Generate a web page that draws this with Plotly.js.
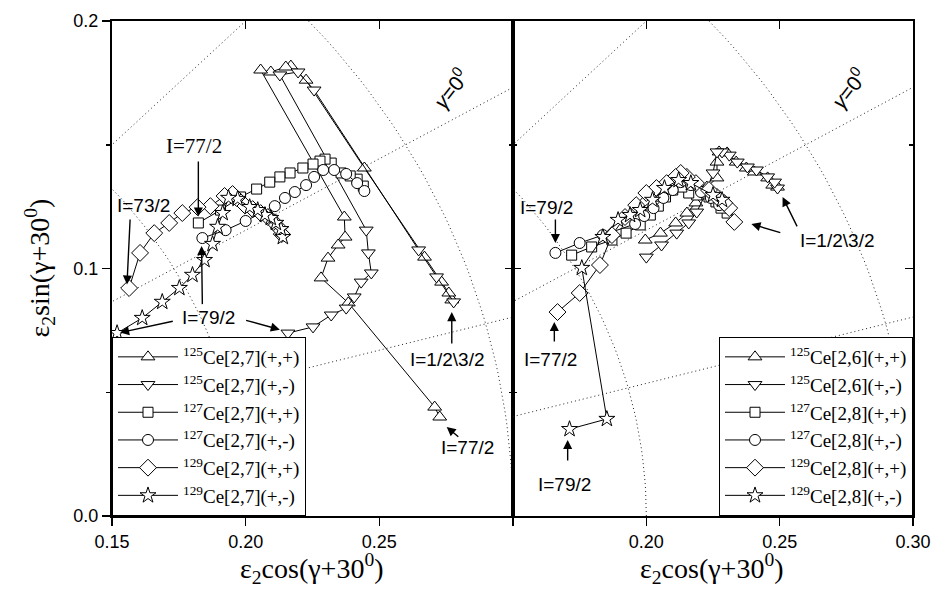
<!DOCTYPE html>
<html><head><meta charset="utf-8">
<script src="https://cdn.plot.ly/plotly-3.0.1.min.js"></script>
<style>body{margin:0;background:#fff}#chart{width:936px;height:591px}</style>
</head><body><div id="chart"></div>
<script>
// ---------- Left panel data ----------
var L125pp_x = [0.2771,0.2760,0.2733,0.2669,0.2444,0.2226,0.2169,0.2150,0.2094,0.2056,0.2369,0.2372,0.2346,0.2308,0.2282,0.2384,0.2707,0.2726];
var L125pp_y = [0.0873,0.0901,0.0945,0.1046,0.1406,0.1761,0.1818,0.1814,0.1794,0.1802,0.1208,0.1127,0.1095,0.1042,0.0962,0.0861,0.0440,0.0400];
var L125pm_x = [0.2778,0.2714,0.2647,0.2256,0.2196,0.2128,0.2451,0.2459,0.2470,0.2432,0.2406,0.2376,0.2320,0.2252,0.2158];
var L125pm_y = [0.0865,0.0966,0.1075,0.1721,0.1794,0.1782,0.1155,0.1063,0.0982,0.0945,0.0885,0.0840,0.0812,0.0764,0.0739];
var L127pp_x = [0.2440,0.2417,0.2391,0.2357,0.2320,0.2297,0.2278,0.2252,0.2214,0.2166,0.2128,0.2090,0.2041,0.1981,0.1906,0.1823];
var L127pp_y = [0.1333,0.1361,0.1374,0.1386,0.1426,0.1442,0.1434,0.1422,0.1406,0.1386,0.1370,0.1349,0.1321,0.1289,0.1236,0.1184];
var L127pm_x = [0.2444,0.2417,0.2376,0.2331,0.2290,0.2256,0.2226,0.2184,0.2147,0.2109,0.2000,0.1925,0.1838];
var L127pm_y = [0.1313,0.1345,0.1382,0.1398,0.1398,0.1370,0.1337,0.1309,0.1285,0.1252,0.1192,0.1155,0.1123];
var L129pp_x = [0.2135,0.2124,0.2105,0.2083,0.2056,0.2026,0.1996,0.1966,0.1951,0.1921,0.1868,0.1820,0.1763,0.1714,0.1658,0.1605,0.1564];
var L129pp_y = [0.1139,0.1164,0.1188,0.1208,0.1224,0.1240,0.1256,0.1285,0.1301,0.1293,0.1252,0.1248,0.1224,0.1184,0.1143,0.1063,0.0921];
var L129pm_x = [0.2139,0.2132,0.2113,0.2094,0.2072,0.2045,0.2015,0.1970,0.1936,0.1914,0.1895,0.1876,0.1846,0.1801,0.1752,0.1688,0.1613,0.1519];
var L129pm_y = [0.1127,0.1159,0.1184,0.1204,0.1216,0.1236,0.1248,0.1281,0.1285,0.1224,0.1168,0.1099,0.1034,0.0974,0.0921,0.0865,0.0800,0.0739];

// ---------- Right panel data ----------
var R125pp_x = [0.2492,0.2474,0.2455,0.2405,0.2375,0.2337,0.2303,0.2273,0.2265,0.2265,0.2227,0.2186,0.2152,0.2110,0.2053,0.1996];
var R125pp_y = [0.1329,0.1337,0.1366,0.1390,0.1406,0.1430,0.1467,0.1471,0.1430,0.1366,0.1329,0.1265,0.1224,0.1184,0.1143,0.1115];
var R125pm_x = [0.2492,0.2481,0.2455,0.2413,0.2379,0.2341,0.2311,0.2284,0.2265,0.2250,0.2220,0.2189,0.2159,0.2114,0.2057,0.2000];
var R125pm_y = [0.1325,0.1349,0.1370,0.1398,0.1410,0.1430,0.1458,0.1471,0.1471,0.1386,0.1297,0.1228,0.1184,0.1143,0.1095,0.1046];
var R127pp_x = [0.2303,0.2280,0.2261,0.2235,0.2189,0.2159,0.2133,0.2099,0.2072,0.2045,0.2015,0.1977,0.1924,0.1871,0.1795,0.1720];
var R127pp_y = [0.1224,0.1244,0.1269,0.1289,0.1297,0.1305,0.1329,0.1317,0.1289,0.1252,0.1216,0.1176,0.1143,0.1115,0.1087,0.1054];
var R127pm_x = [0.2273,0.2242,0.2205,0.2167,0.2129,0.2099,0.2064,0.2027,0.1992,0.1958,0.1837,0.1750,0.1659];
var R127pm_y = [0.1256,0.1285,0.1309,0.1337,0.1349,0.1317,0.1285,0.1244,0.1212,0.1180,0.1135,0.1103,0.1063];
var R129pp_x = [0.2330,0.2311,0.2292,0.2265,0.2235,0.2186,0.2152,0.2129,0.2110,0.2076,0.2038,0.2000,0.1962,0.1920,0.1871,0.1826,0.1750,0.1667];
var R129pp_y = [0.1188,0.1244,0.1265,0.1289,0.1317,0.1345,0.1370,0.1386,0.1370,0.1345,0.1325,0.1305,0.1256,0.1208,0.1135,0.1014,0.0901,0.0824];
var R129pm_x = [0.2284,0.2250,0.2167,0.2121,0.2068,0.2023,0.1977,0.1939,0.1894,0.1837,0.1758,0.1852,0.1712];
var R129pm_y = [0.1277,0.1297,0.1345,0.1357,0.1325,0.1277,0.1236,0.1216,0.1196,0.1127,0.1002,0.0392,0.0351];

// ---------- names / symbols ----------
var leftNames  = ['<sup>125</sup>Ce[2,7](+,+)','<sup>125</sup>Ce[2,7](+,-)','<sup>127</sup>Ce[2,7](+,+)','<sup>127</sup>Ce[2,7](+,-)','<sup>129</sup>Ce[2,7](+,+)','<sup>129</sup>Ce[2,7](+,-)'];
var rightNames = ['<sup>125</sup>Ce[2,6](+,+)','<sup>125</sup>Ce[2,6](+,-)','<sup>127</sup>Ce[2,8](+,+)','<sup>127</sup>Ce[2,8](+,-)','<sup>129</sup>Ce[2,8](+,+)','<sup>129</sup>Ce[2,8](+,-)'];
var symbols = ['triangle-up','triangle-down','square','circle','diamond','star'];
var symSizes = [12,12,10,11,13,12];
var xTitleText = 'ε<sub>2</sub>cos(γ+30<sup>0</sup>)';
var yTitleText = 'ε<sub>2</sub>sin(γ+30<sup>0</sup>)';

// polar reference grid (gamma in degrees, epsilon radii)
var gammaLines = [-15, 0, 15];
var epsArcs = [0.2, 0.3];

var leftX = [L125pp_x,L125pm_x,L127pp_x,L127pm_x,L129pp_x,L129pm_x];
var leftY = [L125pp_y,L125pm_y,L127pp_y,L127pm_y,L129pp_y,L129pm_y];
var rightX = [R125pp_x,R125pm_x,R127pp_x,R127pm_x,R129pp_x,R129pm_x];
var rightY = [R125pp_y,R125pm_y,R127pp_y,R127pm_y,R129pp_y,R129pm_y];

var traces = [];
function gridLine(){ return {color:'#222', width:1, dash:'1px,3px'}; }
function addGrid(xa, ya){
  gammaLines.forEach(function(g){
    var a = (g+30)*Math.PI/180;
    traces.push({x:[0,0.5*Math.cos(a)], y:[0,0.5*Math.sin(a)], xaxis:xa, yaxis:ya, mode:'lines',
      line:gridLine(), showlegend:false, hoverinfo:'skip'});
  });
  epsArcs.forEach(function(e){
    var xs=[], ys=[];
    for (var d=0; d<=90; d+=1){ var a=d*Math.PI/180; xs.push(e*Math.cos(a)); ys.push(e*Math.sin(a)); }
    traces.push({x:xs, y:ys, xaxis:xa, yaxis:ya, mode:'lines',
      line:gridLine(), showlegend:false, hoverinfo:'skip'});
  });
}
addGrid('x','y');
addGrid('x2','y2');

function addSeries(xs, ys, names, xa, ya, leg){
  for (var i=0;i<6;i++){
    traces.push({x:xs[i], y:ys[i], xaxis:xa, yaxis:ya, mode:'lines+markers', name:names[i],
      legend:leg, legendgroup:leg+i,
      line:{color:'black', width:1},
      marker:{symbol:symbols[i], size:symSizes[i], color:'white', line:{color:'black', width:1}}});
  }
}
addSeries(leftX, leftY, leftNames, 'x','y','legend');
addSeries(rightX, rightY, rightNames, 'x2','y2','legend2');

// dummy traces to instantiate mirror axes
traces.push({x:[],y:[],xaxis:'x3',yaxis:'y',showlegend:false,hoverinfo:'skip'});
traces.push({x:[],y:[],xaxis:'x4',yaxis:'y2',showlegend:false,hoverinfo:'skip'});
traces.push({x:[],y:[],xaxis:'x',yaxis:'y3',showlegend:false,hoverinfo:'skip'});
traces.push({x:[],y:[],xaxis:'x2',yaxis:'y4',showlegend:false,hoverinfo:'skip'});

function serif(s){ return {family:'Liberation Serif', size:s, color:'black'}; }
function sans(s){ return {family:'Liberation Sans', size:s, color:'black'}; }
var xr = [0.15, 0.30], yr = [0, 0.2];
var split = 401/801;
function baseAxis(o){
  var a = {showline:true, linecolor:'black', linewidth:2, showgrid:false, zeroline:false,
    ticks:'outside', ticklen:8, tickwidth:1.5, tickcolor:'black', tickfont:sans(18)};
  for (var k in o) a[k]=o[k];
  return a;
}

function txt(x,y,t,xr_,yr_,font,ang){ return {x:x,y:y,xref:xr_,yref:yr_,text:t,showarrow:false,font:font||sans(19),textangle:ang||0}; }
function arr(tx,ty,hx,hy,xr_,yr_){ return {x:hx,y:hy,ax:tx,ay:ty,xref:xr_,yref:yr_,axref:xr_,ayref:yr_,text:'',
  showarrow:true,arrowhead:2,arrowsize:1.3,arrowwidth:1.4,arrowcolor:'black',standoff:0,startstandoff:0}; }
function ptitle(x,y,t,ang){ return {xref:'paper', yref:'paper', x:x, y:y, xanchor:'center', yanchor:'middle',
  text:t, showarrow:false, font:serif(28), textangle:ang||0}; }
var annotations = [
  // axis titles
  ptitle((312-112)/801, (516-568)/495, xTitleText),
  ptitle((712-112)/801, (516-568)/495, xTitleText),
  ptitle((40-112)/801, 0.5, yTitleText, -90),
  // left panel labels
  txt(0.1808,0.1495,'I=77/2','x','y',serif(21)), arr(0.1823,0.1438,0.1823,0.1210,'x','y'),
  txt(0.1617,0.1256,'I=73/2','x','y'), arr(0.1568,0.1204,0.1556,0.0935,'x','y'),
  txt(0.1861,0.0804,'I=79/2','x','y'),
  arr(0.1733,0.0788,0.1530,0.0741,'x','y'), arr(0.1996,0.0792,0.2128,0.0753,'x','y'), arr(0.1838,0.0850,0.1835,0.1091,'x','y'),
  txt(0.2752,0.0634,'I=1/2\\3/2','x','y'), arr(0.2771,0.0691,0.2771,0.0824,'x','y'),
  txt(0.2831,0.0275,'I=77/2','x','y'), arr(0.2801,0.0315,0.2752,0.0360,'x','y'),
  txt(0.2767,0.1729,'<i>γ</i>=0<sup>0</sup>','x','y',sans(21),-52),
  // right panel labels
  txt(0.1625,0.1248,'I=79/2','x2','y2'), arr(0.1659,0.1204,0.1659,0.1103,'x2','y2'),
  txt(0.2716,0.1115,'I=1/2\\3/2','x2','y2'),
  arr(0.2568,0.1164,0.2511,0.1289,'x2','y2'), arr(0.2508,0.1143,0.2394,0.1180,'x2','y2'),
  txt(0.1640,0.0634,'I=77/2','x2','y2'), arr(0.1655,0.0699,0.1655,0.0784,'x2','y2'),
  txt(0.1693,0.0129,'I=79/2','x2','y2'), arr(0.1705,0.0218,0.1705,0.0307,'x2','y2'),
  txt(0.2758,0.1729,'<i>γ</i>=0<sup>0</sup>','x2','y2',sans(21),-52)
];

function legendCfg(x, xanchor){
  return {bgcolor:'white', bordercolor:'black', borderwidth:1, xref:'paper', yref:'paper', y:0, yanchor:'bottom',
    x:x, xanchor:xanchor, font:serif(19), itemwidth:60, tracegroupgap:0, traceorder:'normal'};
}

var layout = {
  width:936, height:591, margin:{l:112, r:23, t:21, b:75},
  paper_bgcolor:'white', plot_bgcolor:'white', showlegend:true,
  legend:legendCfg(0,'left'), legend2:legendCfg(1,'right'),
  xaxis: baseAxis({domain:[0,split], range:xr, anchor:'y', tickvals:[0.15,0.2,0.25,0.3], ticktext:['0.15','0.20','0.25','']}),
  xaxis2: baseAxis({domain:[split,1], range:xr, anchor:'y2', tickvals:[0.15,0.2,0.25,0.3], ticktext:['','0.20','0.25','0.30']}),
  xaxis3: baseAxis({overlaying:'x', side:'top', anchor:'y', range:xr, ticks:'inside', showticklabels:false, tickvals:[0.2,0.25]}),
  xaxis4: baseAxis({overlaying:'x2', side:'top', anchor:'y2', range:xr, ticks:'inside', showticklabels:false, tickvals:[0.2,0.25]}),
  yaxis: baseAxis({domain:[0,1], range:yr, anchor:'x', dtick:0.1, tickformat:'.1f',
    minor:{dtick:0.05, ticklen:4, ticks:'outside', tickcolor:'black', tickwidth:1.5}}),
  yaxis2: baseAxis({domain:[0,1], range:yr, anchor:'x2', dtick:0.1, ticks:'inside', showticklabels:false,
    minor:{dtick:0.05, ticklen:4, ticks:'inside', tickcolor:'black', tickwidth:1.5}}),
  yaxis3: baseAxis({overlaying:'y', side:'right', anchor:'x', range:yr, dtick:0.1, ticks:'inside', showticklabels:false,
    minor:{dtick:0.05, ticklen:4, ticks:'inside', tickcolor:'black', tickwidth:1.5}}),
  yaxis4: baseAxis({overlaying:'y2', side:'right', anchor:'x2', range:yr, dtick:0.1, ticks:'inside', showticklabels:false,
    minor:{dtick:0.05, ticklen:4, ticks:'inside', tickcolor:'black', tickwidth:1.5}}),
  annotations: annotations
};
Plotly.newPlot('chart', traces, layout, {staticPlot:true, displayModeBar:false});
</script></body></html>
